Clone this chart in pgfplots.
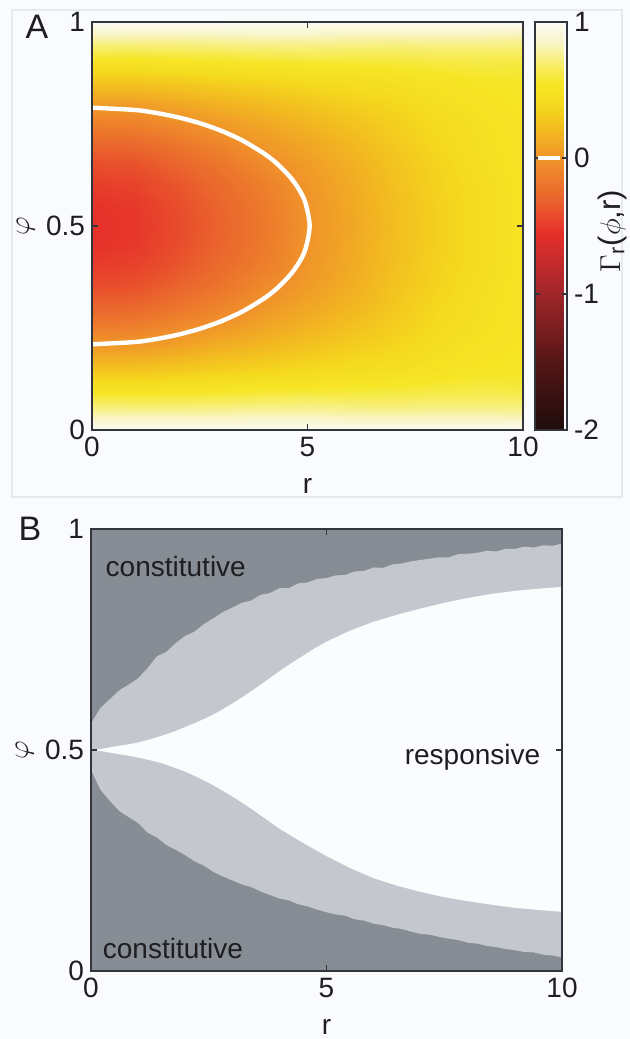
\documentclass[border=0pt]{standalone}
\usepackage{fontspec}
\setmainfont{Liberation Sans}
\usepackage{pgfplots}
\pgfplotsset{compat=1.18}

\definecolor{axcol}{RGB}{50,54,60}
\definecolor{darkg}{RGB}{135,141,148}
\definecolor{lightg}{RGB}{196,200,206}
\definecolor{whiteg}{RGB}{251,252,254}
\definecolor{bgcol}{RGB}{250,251,253}
\definecolor{framecol}{RGB}{230,233,238}
\definecolor{txtcol}{RGB}{30,30,32}

\pgfplotsset{
  mystyle/.style={
    scale only axis,
    axis line style={axcol, line width=0.8pt},
    every tick/.style={axcol, line width=0.6pt},
    tick align=inside,
    major tick length=3pt,
    tick pos=both,
    ticklabel style={font=\fontsize{14}{16}\selectfont, text=txtcol},
    label style={font=\fontsize{14}{16}\selectfont, text=txtcol},
    xlabel style={yshift=-4pt},
    ylabel style={font=\fontsize{15}{18}\selectfont, yshift=-1.2pt},
    /pgf/number format/assume math mode=true,
    xmin=0, xmax=10, ymin=0, ymax=1,
    xtick={0,5,10}, ytick={0,0.5,1},
    xticklabels={0,5,10}, yticklabels={0,0.5,1},
    xlabel={r}, ylabel={$\varphi$},
  }
}

\begin{document}
\begin{tikzpicture}
\path[use as bounding box, fill=bgcol] (0,0) rectangle (315pt,519.5pt);
\draw[framecol, line width=0.6pt] (6pt,271pt) rectangle (311pt,514.5pt);

% ---------------- Panel A ----------------
\begin{axis}[mystyle,
  at={(46pt,508.5pt)}, anchor=north west,
  width=215.5pt, height=204pt,
  axis on top,
  colormap={gam}{
    rgb255(0pt)=(30,12,12);
    rgb255(10pt)=(85,22,22);
    rgb255(20pt)=(160,38,42);
    rgb255(25pt)=(200,42,44);
    rgb255(29pt)=(230,48,42);
    rgb255(34pt)=(234,100,45);
    rgb255(40pt)=(240,148,42);
    rgb255(44pt)=(242,185,32);
    rgb255(48pt)=(245,218,30);
    rgb255(51pt)=(246,230,38);
    rgb255(54pt)=(247,238,110);
    rgb255(57pt)=(249,245,200);
    rgb255(60pt)=(251,251,244)
  },
  point meta min=-2, point meta max=1,
  colorbar,
  colorbar style={
    at={(1.0278,1)}, anchor=north west,
    width=16pt,
    axis line style={axcol, line width=0.8pt},
    every tick/.style={axcol, line width=0.6pt},
    tick align=inside, major tick length=2.5pt,
    ytick={-2,-1,0,1}, yticklabels={-2,-1,0,1},
    ytick pos=both, yticklabel pos=right,
    yticklabel style={font=\fontsize{14}{16}\selectfont, text=txtcol},
  },
]
\addplot[surf, shader=interp, mesh/cols=11, point meta=explicit] coordinates {
(0,0)[1] (1,0)[1] (2,0)[1] (3,0)[1] (4,0)[1] (5,0)[1] (6,0)[1] (7,0)[1] (8,0)[1] (9,0)[1] (10,0)[1]
(0,0.025)[0.88] (1,0.025)[0.87] (2,0.025)[0.87] (3,0.025)[0.87] (4,0.025)[0.88] (5,0.025)[0.88] (6,0.025)[0.86] (7,0.025)[0.86] (8,0.025)[0.86] (9,0.025)[0.86] (10,0.025)[0.85]
(0,0.05)[0.75] (1,0.05)[0.75] (2,0.05)[0.75] (3,0.05)[0.76] (4,0.05)[0.77] (5,0.05)[0.77] (6,0.05)[0.76] (7,0.05)[0.75] (8,0.05)[0.76] (9,0.05)[0.76] (10,0.05)[0.75]
(0,0.075)[0.63] (1,0.075)[0.62] (2,0.075)[0.63] (3,0.075)[0.64] (4,0.075)[0.66] (5,0.075)[0.67] (6,0.075)[0.66] (7,0.075)[0.66] (8,0.075)[0.67] (9,0.075)[0.67] (10,0.075)[0.67]
(0,0.1)[0.50] (1,0.1)[0.50] (2,0.1)[0.51] (3,0.1)[0.53] (4,0.1)[0.55] (5,0.1)[0.56] (6,0.1)[0.57] (7,0.1)[0.58] (8,0.1)[0.60] (9,0.1)[0.61] (10,0.1)[0.60]
(0,0.15)[0.26] (1,0.15)[0.26] (2,0.15)[0.29] (3,0.15)[0.33] (4,0.15)[0.36] (5,0.15)[0.40] (6,0.15)[0.43] (7,0.15)[0.46] (8,0.15)[0.50] (9,0.15)[0.53] (10,0.15)[0.55]
(0,0.2)[0.04] (1,0.2)[0.05] (2,0.2)[0.10] (3,0.2)[0.16] (4,0.2)[0.21] (5,0.2)[0.27] (6,0.2)[0.33] (7,0.2)[0.38] (8,0.2)[0.45] (9,0.2)[0.50] (10,0.2)[0.53]
(0,0.25)[-0.13] (1,0.25)[-0.12] (2,0.25)[-0.05] (3,0.25)[0.03] (4,0.25)[0.10] (5,0.25)[0.17] (6,0.25)[0.25] (7,0.25)[0.33] (8,0.25)[0.41] (9,0.25)[0.47] (10,0.25)[0.52]
(0,0.3)[-0.29] (1,0.3)[-0.27] (2,0.3)[-0.19] (3,0.3)[-0.09] (4,0.3)[0.02] (5,0.3)[0.10] (6,0.3)[0.19] (7,0.3)[0.29] (8,0.3)[0.39] (9,0.3)[0.46] (10,0.3)[0.51]
(0,0.35)[-0.41] (1,0.35)[-0.39] (2,0.35)[-0.30] (3,0.35)[-0.19] (4,0.35)[-0.06] (5,0.35)[0.04] (6,0.35)[0.14] (7,0.35)[0.26] (8,0.35)[0.36] (9,0.35)[0.45] (10,0.35)[0.51]
(0,0.4)[-0.49] (1,0.4)[-0.46] (2,0.4)[-0.37] (3,0.4)[-0.25] (4,0.4)[-0.13] (5,0.4)[0.01] (6,0.4)[0.12] (7,0.4)[0.24] (8,0.4)[0.35] (9,0.4)[0.43] (10,0.4)[0.50]
(0,0.45)[-0.54] (1,0.45)[-0.51] (2,0.45)[-0.41] (3,0.45)[-0.29] (4,0.45)[-0.16] (5,0.45)[0.00] (6,0.45)[0.11] (7,0.45)[0.23] (8,0.45)[0.34] (9,0.45)[0.43] (10,0.45)[0.50]
(0,0.5)[-0.55] (1,0.5)[-0.52] (2,0.5)[-0.42] (3,0.5)[-0.30] (4,0.5)[-0.17] (5,0.5)[-0.01] (6,0.5)[0.10] (7,0.5)[0.22] (8,0.5)[0.34] (9,0.5)[0.43] (10,0.5)[0.50]
(0,0.55)[-0.54] (1,0.55)[-0.51] (2,0.55)[-0.41] (3,0.55)[-0.29] (4,0.55)[-0.16] (5,0.55)[0.00] (6,0.55)[0.11] (7,0.55)[0.23] (8,0.55)[0.34] (9,0.55)[0.43] (10,0.55)[0.50]
(0,0.6)[-0.49] (1,0.6)[-0.46] (2,0.6)[-0.37] (3,0.6)[-0.25] (4,0.6)[-0.13] (5,0.6)[0.01] (6,0.6)[0.12] (7,0.6)[0.24] (8,0.6)[0.35] (9,0.6)[0.43] (10,0.6)[0.50]
(0,0.65)[-0.41] (1,0.65)[-0.39] (2,0.65)[-0.30] (3,0.65)[-0.19] (4,0.65)[-0.06] (5,0.65)[0.04] (6,0.65)[0.14] (7,0.65)[0.26] (8,0.65)[0.36] (9,0.65)[0.45] (10,0.65)[0.51]
(0,0.7)[-0.29] (1,0.7)[-0.27] (2,0.7)[-0.19] (3,0.7)[-0.09] (4,0.7)[0.02] (5,0.7)[0.10] (6,0.7)[0.19] (7,0.7)[0.29] (8,0.7)[0.39] (9,0.7)[0.46] (10,0.7)[0.51]
(0,0.75)[-0.13] (1,0.75)[-0.12] (2,0.75)[-0.05] (3,0.75)[0.03] (4,0.75)[0.10] (5,0.75)[0.17] (6,0.75)[0.25] (7,0.75)[0.33] (8,0.75)[0.41] (9,0.75)[0.47] (10,0.75)[0.52]
(0,0.8)[0.04] (1,0.8)[0.05] (2,0.8)[0.10] (3,0.8)[0.16] (4,0.8)[0.21] (5,0.8)[0.27] (6,0.8)[0.33] (7,0.8)[0.38] (8,0.8)[0.45] (9,0.8)[0.50] (10,0.8)[0.53]
(0,0.85)[0.26] (1,0.85)[0.26] (2,0.85)[0.29] (3,0.85)[0.33] (4,0.85)[0.36] (5,0.85)[0.40] (6,0.85)[0.43] (7,0.85)[0.46] (8,0.85)[0.50] (9,0.85)[0.53] (10,0.85)[0.55]
(0,0.9)[0.50] (1,0.9)[0.50] (2,0.9)[0.51] (3,0.9)[0.53] (4,0.9)[0.55] (5,0.9)[0.56] (6,0.9)[0.57] (7,0.9)[0.58] (8,0.9)[0.60] (9,0.9)[0.61] (10,0.9)[0.60]
(0,0.925)[0.63] (1,0.925)[0.62] (2,0.925)[0.63] (3,0.925)[0.64] (4,0.925)[0.66] (5,0.925)[0.67] (6,0.925)[0.66] (7,0.925)[0.66] (8,0.925)[0.67] (9,0.925)[0.67] (10,0.925)[0.67]
(0,0.95)[0.75] (1,0.95)[0.75] (2,0.95)[0.75] (3,0.95)[0.76] (4,0.95)[0.77] (5,0.95)[0.77] (6,0.95)[0.76] (7,0.95)[0.75] (8,0.95)[0.76] (9,0.95)[0.76] (10,0.95)[0.75]
(0,0.975)[0.88] (1,0.975)[0.87] (2,0.975)[0.87] (3,0.975)[0.87] (4,0.975)[0.88] (5,0.975)[0.88] (6,0.975)[0.86] (7,0.975)[0.86] (8,0.975)[0.86] (9,0.975)[0.86] (10,0.975)[0.85]
(0,1)[1] (1,1)[1] (2,1)[1] (3,1)[1] (4,1)[1] (5,1)[1] (6,1)[1] (7,1)[1] (8,1)[1] (9,1)[1] (10,1)[1]
};
\addplot[white, line width=2.2pt, smooth, tension=0.5] coordinates {
(0,0.79) (1,0.7843) (1.5,0.7769) (2,0.7663) (2.5,0.7520) (3,0.7333) (3.5,0.7090) (4,0.6770) (4.3,0.6521) (4.6,0.6197) (4.8,0.5901) (4.95,0.5574) (5.05,0.5)
(4.95,0.4426) (4.8,0.4099) (4.6,0.3803) (4.3,0.3479) (4,0.3230) (3.5,0.2910) (3,0.2667) (2.5,0.2480) (2,0.2337) (1.5,0.2231) (1,0.2157) (0,0.21)
};
\end{axis}

% contour level marker in colour bar
\draw[white, line width=2pt] (269pt,440.5pt) -- (280pt,440.5pt);
\node[rotate=90, font=\fontsize{15.5}{18}\selectfont, text=txtcol] at (306pt,404pt) {$\Gamma$\textsubscript{r}($\phi$,r)};
\node[font=\fontsize{17}{20}\selectfont, text=txtcol] at (18.5pt,506pt) {A};

% ---------------- Panel B ----------------
\begin{axis}[mystyle,
  at={(45.5pt,255pt)}, anchor=north west,
  width=235.5pt, height=221pt,
  axis on top,
  axis background/.style={fill=darkg},
]
\addplot[fill=lightg, draw=none] coordinates {
(0,0.56) (0.2,0.595) (0.4,0.615) (0.6,0.635) (0.8,0.648) (1.0,0.662) (1.2,0.685) (1.4,0.712) (1.6,0.722) (1.8,0.742)
(2.0,0.758) (2.2,0.768) (2.4,0.785) (2.6,0.798) (2.8,0.812) (3.0,0.822) (3.2,0.833) (3.4,0.838) (3.6,0.851) (3.8,0.855)
(4.0,0.866) (4.2,0.866) (4.4,0.877) (4.6,0.879) (4.8,0.887) (5.0,0.889) (5.2,0.895) (5.4,0.896) (5.6,0.904) (5.8,0.905)
(6.0,0.913) (6.2,0.912) (6.4,0.920) (6.6,0.922) (6.8,0.927) (7.0,0.930) (7.2,0.933) (7.4,0.936) (7.6,0.936) (7.8,0.943)
(8.0,0.944) (8.2,0.946) (8.4,0.951) (8.6,0.949) (8.8,0.955) (9.0,0.955) (9.2,0.960) (9.4,0.958) (9.6,0.963) (9.8,0.962) (10.0,0.967)
(10.0,0.031) (9.8,0.035) (9.6,0.037) (9.4,0.042) (9.2,0.043) (9.0,0.047) (8.8,0.050) (8.6,0.054) (8.4,0.057) (8.2,0.062)
(8.0,0.064) (7.8,0.070) (7.6,0.073) (7.4,0.077) (7.2,0.082) (7.0,0.084) (6.8,0.089) (6.6,0.095) (6.4,0.098) (6.2,0.104)
(6.0,0.107) (5.8,0.114) (5.6,0.117) (5.4,0.125) (5.2,0.128) (5.0,0.133) (4.8,0.139) (4.6,0.146) (4.4,0.151) (4.2,0.160)
(4.0,0.164) (3.8,0.172) (3.6,0.180) (3.4,0.190) (3.2,0.196) (3.0,0.205) (2.8,0.214) (2.6,0.224) (2.4,0.238) (2.2,0.248)
(2.0,0.262) (1.8,0.274) (1.6,0.285) (1.4,0.302) (1.2,0.313) (1.0,0.335) (0.8,0.348) (0.6,0.362) (0.4,0.385) (0.2,0.410) (0,0.455)
};
\addplot[fill=whiteg, draw=none] coordinates {
(0,0.5) (0.25,0.503) (0.5,0.508) (0.75,0.512) (1,0.517) (1.25,0.524) (1.5,0.532) (1.75,0.541) (2,0.552) (2.25,0.563) (2.5,0.575)
(2.75,0.589) (3,0.605) (3.25,0.622) (3.5,0.640) (3.75,0.659) (4,0.678) (4.25,0.696) (4.5,0.713) (4.75,0.730) (5,0.745)
(5.5,0.770) (6,0.790) (6.5,0.806) (7,0.820) (7.5,0.833) (8,0.844) (8.5,0.853) (9,0.860) (9.5,0.865) (10,0.869)
(10,0.134) (9.5,0.138) (9,0.143) (8.5,0.150) (8,0.158) (7.5,0.167) (7,0.179) (6.5,0.193) (6,0.210) (5.5,0.233) (5,0.260)
(4.75,0.275) (4.5,0.290) (4.25,0.306) (4,0.322) (3.75,0.341) (3.5,0.360) (3.25,0.378) (3,0.395) (2.75,0.411) (2.5,0.426)
(2.25,0.439) (2,0.451) (1.75,0.461) (1.5,0.470) (1.25,0.477) (1,0.483) (0.75,0.488) (0.5,0.492) (0.25,0.497) (0,0.5)
};
\node[font=\fontsize{14}{16}\selectfont, text=txtcol] at (axis cs:1.8,0.915) {constitutive};
\node[font=\fontsize{14}{16}\selectfont, text=txtcol] at (axis cs:1.74,0.05) {constitutive};
\node[font=\fontsize{14}{16}\selectfont, text=txtcol] at (axis cs:8.1,0.484) {responsive};
\end{axis}
\node[font=\fontsize{17}{20}\selectfont, text=txtcol] at (15pt,255pt) {B};
\end{tikzpicture}
\end{document}
